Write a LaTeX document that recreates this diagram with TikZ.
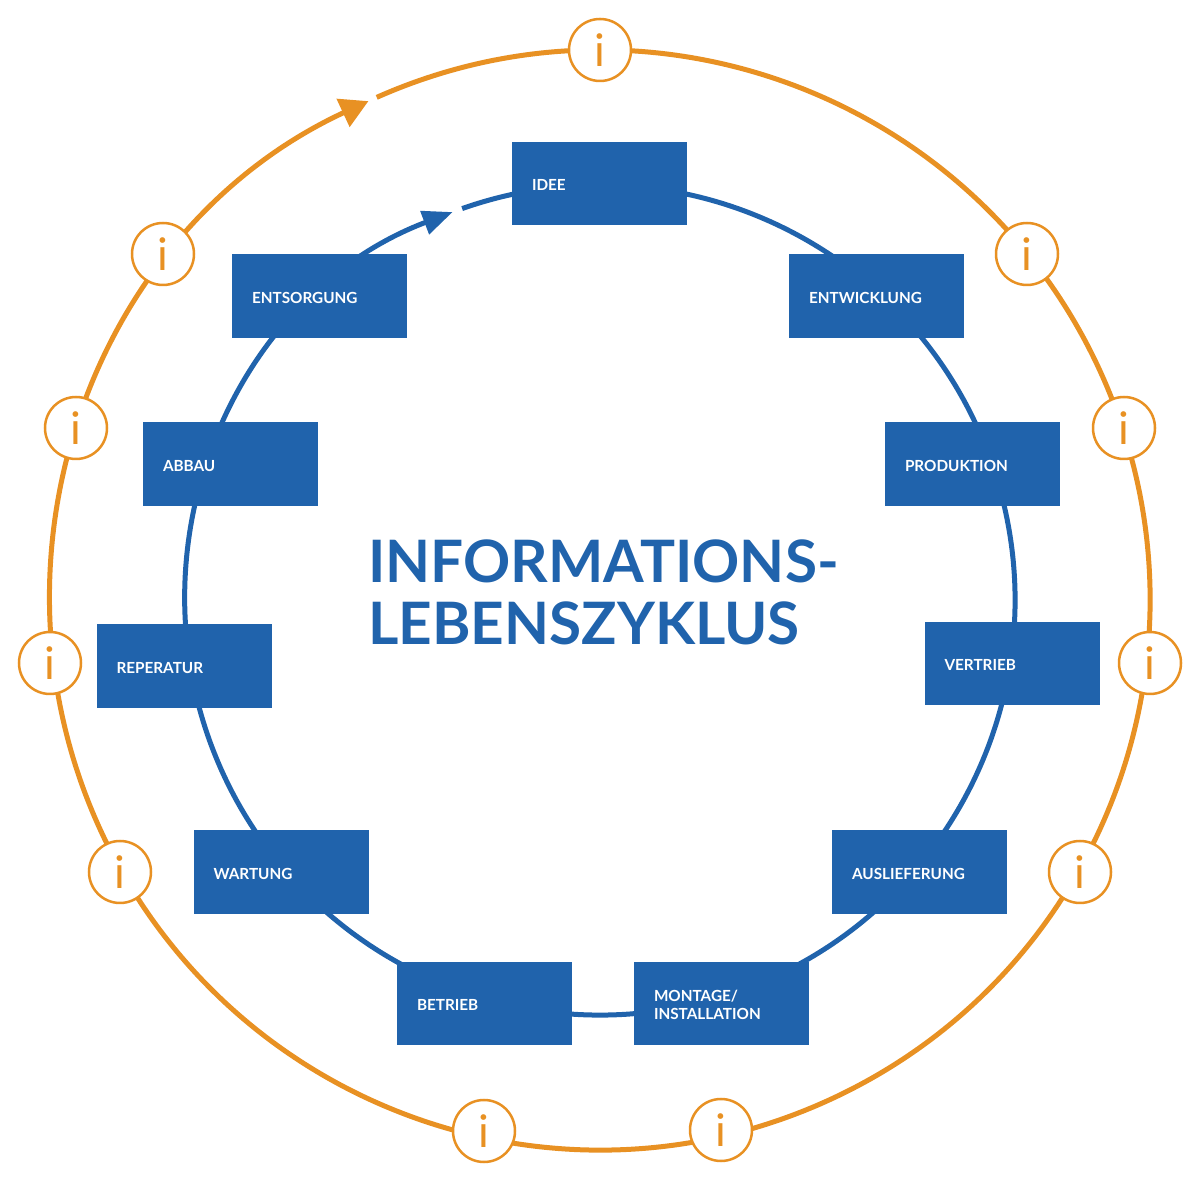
\documentclass[tikz,border=0pt]{standalone}
\usepackage{fontspec}
\setmainfont{Lato}
\usetikzlibrary{arrows.meta}
\definecolor{cblue}{RGB}{32,99,172}
\definecolor{corange}{RGB}{232,145,35}
\tikzset{
  stagebox/.style={rectangle, fill=cblue, text=white, font=\fontsize{15.3}{18}\selectfont\bfseries,
    text width=135pt, inner xsep=20pt, inner ysep=0pt, minimum height=83.5pt, align=left, text height=15pt},
  infobub/.style={circle, draw=corange, line width=2.5pt, fill=white, minimum size=62pt, inner sep=0pt,
    text=corange, font=\fontsize{45}{45}\selectfont},
  titletext/.style={anchor=base west, inner sep=0pt, text=cblue, font=\fontsize{58.5}{58.5}\selectfont\bfseries}
}
\begin{document}
\begin{tikzpicture}[x=1pt,y=1pt]
\useasboundingbox (0,0) rectangle (1200,1200);
\coordinate (c) at (600,600);
% outer orange ring
\draw[corange, line width=5pt, -{Triangle[length=28pt,width=30pt]}]
  (c) ++(113.95:550) arc[start angle=113.95, end angle=-245.1, radius=550];
% inner blue ring
\draw[cblue, line width=5pt, -{Triangle[length=30pt,width=24pt]}]
  (c) ++(109.4:415) arc[start angle=109.4, end angle=-249.2, radius=415];
% stages
\node[stagebox] (idee) at (599.5,1016.5) {IDEE};
\node[stagebox] (entw) at (876.5,904) {ENTWICKLUNG};
\node[stagebox] (prod) at (972.5,736) {PRODUKTION};
\node[stagebox] (vert) at (1012,536.5) {VERTRIEB};
\node[stagebox] (ausl) at (919.5,328) {AUSLIEFERUNG};
\node[stagebox] (mont) at (721.5,196.5) {MONTAGE/\\INSTALLATION};
\node[stagebox] (betr) at (484.5,196.5) {BETRIEB};
\node[stagebox] (wart) at (281,328) {WARTUNG};
\node[stagebox] (repa) at (184,534) {REPERATUR};
\node[stagebox] (abba) at (230.5,736) {ABBAU};
\node[stagebox] (ents) at (319.5,904) {ENTSORGUNG};
% info bubbles
\node[infobub] (i1) at (600,1150) {i};
\node[infobub] (i2) at (1027,946) {i};
\node[infobub] (i3) at (1124,772) {i};
\node[infobub] (i4) at (1150,537) {i};
\node[infobub] (i5) at (1080,328) {i};
\node[infobub] (i6) at (721,70) {i};
\node[infobub] (i7) at (484,69) {i};
\node[infobub] (i8) at (120,328) {i};
\node[infobub] (i9) at (50,537) {i};
\node[infobub] (i10) at (76,772) {i};
\node[infobub] (i11) at (163,946) {i};
% title
\node[titletext] (t1) at (368,617) {INFORMATIONS-};
\node[titletext] (t2) at (368,555) {LEBENSZYKLUS};
\end{tikzpicture}
\end{document}
